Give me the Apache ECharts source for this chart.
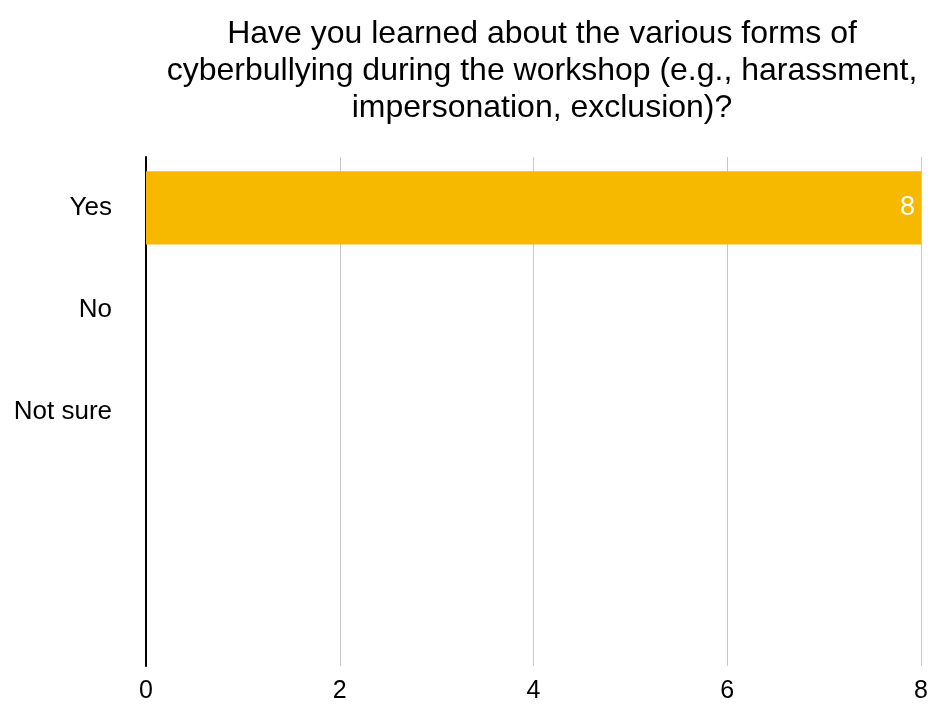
<!DOCTYPE html>
<html><head><meta charset="utf-8">
<script src="https://cdn.jsdelivr.net/npm/echarts@6/dist/echarts.min.js"></script>
<style>html,body{margin:0;padding:0;background:#fff}#c{width:931px;height:704px}</style>
</head><body><div id="c"></div>
<script>
const titleText = "Have you learned about the various forms of\ncyberbullying during the workshop (e.g., harassment,\nimpersonation, exclusion)?";
const categories = ["Yes", "No", "Not sure", "", ""];
const values = [8, null, null, null, null];
const xTicks = [0, 2, 4, 6, 8];

const FONT = 'Liberation Sans, Arial, sans-serif';
const chart = echarts.init(document.getElementById('c'), null, {renderer: 'canvas'});
chart.setOption({
  animation: false,
  backgroundColor: '#fff',
  title: {
    text: titleText,
    left: 537, top: 11, textAlign: 'center',
    textStyle: {fontFamily: FONT, fontSize: 32, fontWeight: 'normal', color: '#000', lineHeight: 37}
  },
  grid: {left: 146, right: 10, top: 157, bottom: 36, containLabel: false},
  xAxis: {
    type: 'value', min: xTicks[0], max: xTicks[xTicks.length - 1], interval: 2,
    axisLine: {show: false}, axisTick: {show: false},
    splitLine: {show: true, lineStyle: {color: '#c8c8c8', width: 1}},
    axisLabel: {fontFamily: FONT, fontSize: 25, color: '#000', margin: 13}
  },
  yAxis: {
    type: 'category', data: categories, inverse: true,
    axisLine: {show: true, onZero: false, lineStyle: {color: '#000', width: 2}},
    axisTick: {show: false},
    axisLabel: {fontFamily: FONT, fontSize: 26, color: '#000', margin: 34}
  },
  series: [{
    type: 'bar', data: values, barCategoryGap: '28%',
    itemStyle: {color: '#F6B900'},
    label: {show: true, position: 'insideRight', distance: 6, color: '#fff', fontSize: 27, fontFamily: FONT}
  }]
});
</script></body></html>
